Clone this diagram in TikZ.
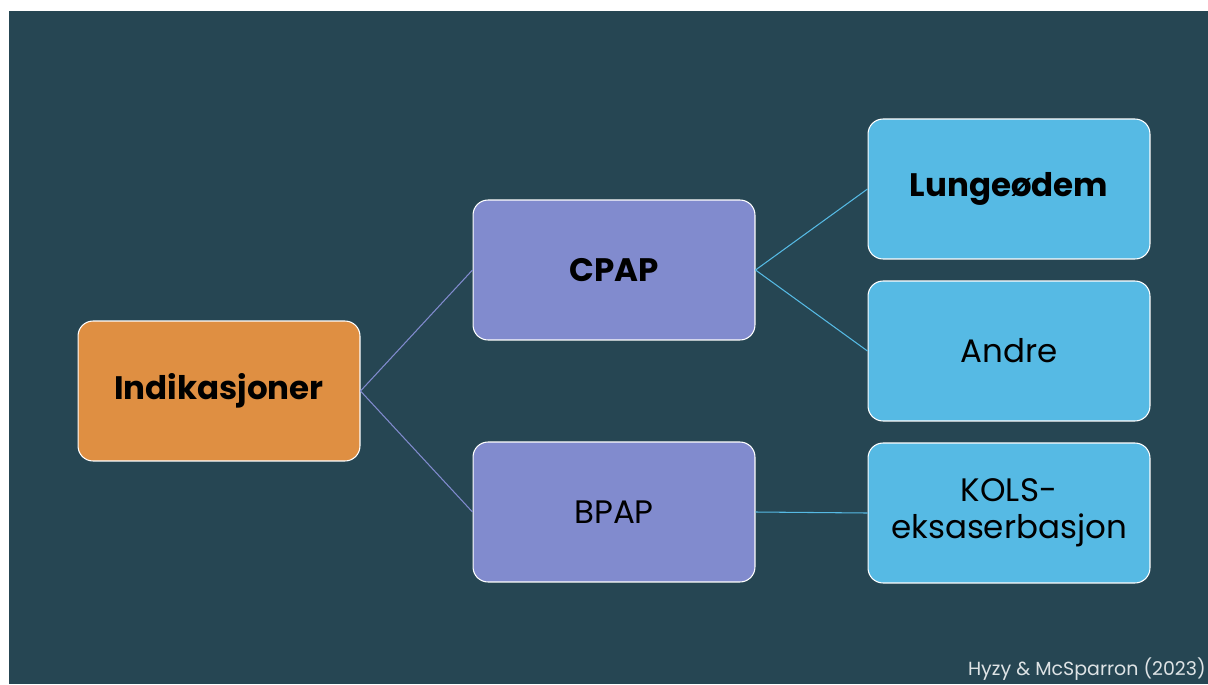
\documentclass[tikz,border=0pt]{standalone}
\usepackage{fontspec}
\setmainfont{Poppins}
\usetikzlibrary{positioning}

\definecolor{slate}{RGB}{38,70,83}
\definecolor{rootfill}{RGB}{223,143,66}
\definecolor{midfill}{RGB}{129,139,206}
\definecolor{leaffill}{RGB}{86,186,228}
\definecolor{midline}{RGB}{129,139,206}
\definecolor{leafline}{RGB}{86,186,228}

\tikzset{
  box/.style={draw=white, line width=0.6pt, rounded corners=0.3cm,
    minimum width=5.64cm, minimum height=2.8cm, align=center,
    font=\fontsize{18.5}{21}\selectfont, text=black},
  rootbox/.style={box, fill=rootfill},
  midbox/.style={box, fill=midfill},
  leafbox/.style={box, fill=leaffill},
  link/.style={line width=0.6pt}
}

\begin{document}
\begin{tikzpicture}[x=0.02cm, y=-0.02cm]
    \useasboundingbox (0,0) rectangle (1208,684);
    \fill[white] (0,0) rectangle (1208,684);
    \fill[slate] (9,11) rectangle (1208,684);

    \node[rootbox] (ind) at (219,391) {\textbf{Indikasjoner}};
    \node[midbox] (cpap) at (614,270) {\textbf{CPAP}};
    \node[midbox] (bpap) at (614,512) {BPAP};
    \node[leafbox] (lunge) at (1009,189) {\textbf{Lungeødem}};
    \node[leafbox] (andre) at (1009,351) {Andre};
    \node[leafbox] (kols) at (1009,513) {KOLS-\\eksaserbasjon};

    \draw[link, midline] (ind.east) -- (cpap.west);
    \draw[link, midline] (ind.east) -- (bpap.west);
    \draw[link, leafline] (cpap.east) -- (lunge.west);
    \draw[link, leafline] (cpap.east) -- (andre.west);
    \draw[link, leafline] (bpap.east) -- (kols.west);

    \node[anchor=base east, text=white!85!slate, font=\fontsize{10.8}{12}\selectfont,
      inner sep=0pt] (src) at (1206,675) {Hyzy \& McSparron (2023)};
\end{tikzpicture}
\end{document}
